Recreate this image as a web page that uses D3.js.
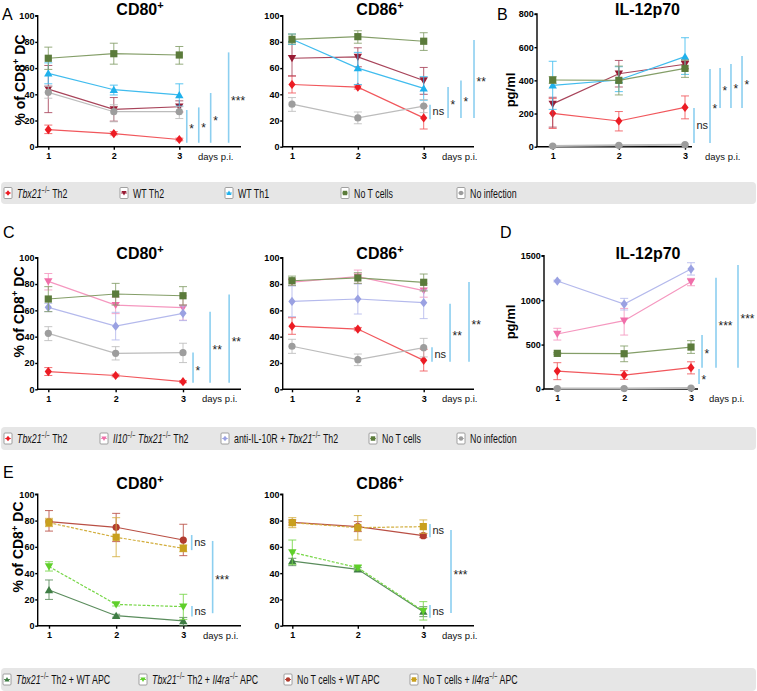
<!DOCTYPE html>
<html>
<head>
<meta charset="utf-8">
<script src="https://cdn.jsdelivr.net/npm/d3@7"></script>
<style>
  body { margin: 0; background: #fff; }
  svg { display: block; font-family: "Liberation Sans", Arial, sans-serif; }
</style>
</head>
<body>
<svg id="fig" width="757" height="691"></svg>
<script>
// ---- data: each point is [mean, lower error, upper error] for day 1, 2, 3 ----
const days = [1, 2, 3];

const groupsAB = ['tbx', 'wtTh2', 'wtTh1', 'noT', 'noInf'];
const groupsCD = ['tbx', 'il10', 'antiIl10r', 'noT', 'noInf'];
const groupsE = ['eTbxWt', 'eTbxIl4ra', 'eNoTWt', 'eNoTIl4ra'];

const a80 = [
  [[13, 10, 16.5], [10, 9, 11.5], [5.5, 4.5, 6.5]],
  [[44, 26, 62], [28.5, 19.5, 37.5], [30.5, 26.5, 35]],
  [[56, 48, 64], [43.5, 39.5, 47], [39.5, 31, 48]],
  [[67.5, 59, 76], [71, 63, 79], [70, 63, 76.5]],
  [[41.5, 37, 46], [26.7, 19, 32], [26.7, 21.5, 30.5]]
];
const a86 = [
  [[47.5, 41, 54], [45.5, 44, 47], [22, 13.5, 31]],
  [[67.5, 54, 80], [68.5, 61, 75.5], [50.5, 40, 60.5]],
  [[82, 78, 86], [60, 47.5, 72], [44.5, 35.5, 53.5]],
  [[82, 78.5, 86], [84, 79, 88.5], [80.5, 73.5, 87]],
  [[32.5, 27, 37.5], [22, 17.5, 26.5], [31, 26, 36]]
];
const b12 = [
  [[201, 110, 290], [155, 95, 212], [237, 168, 306]],
  [[258, 118, 298], [440, 360, 520], [497, 470, 522]],
  [[370, 225, 515], [402, 332, 482], [543, 436, 657]],
  [[402, 382, 422], [400, 312, 486], [472, 418, 522]],
  [[4, 0, 8], [8, 4, 12], [12, 8, 16]]
];
const c80 = [
  [[13.5, 10.5, 16.5], [10.5, 9.5, 11.5], [5.8, 5, 6.6]],
  [[82, 75.5, 88], [64, 57.5, 70], [62, 52.5, 71]],
  [[62.3, 59, 65.3], [48, 37.5, 58.5], [57.7, 52.2, 63.3]],
  [[68.6, 59, 78], [72.4, 64, 80.5], [71.1, 64, 78]],
  [[42.5, 37, 47.6], [27.3, 22.3, 32.4], [27.8, 20.3, 35]]
];
const c86 = [
  [[48, 41.8, 54.4], [45.8, 44.5, 47], [22, 13.9, 30.4]],
  [[81.5, 79, 83.5], [85.6, 80.5, 90.6], [75, 70, 80.5]],
  [[66.8, 55.2, 78.5], [68.6, 57.2, 80], [65.8, 53.7, 75.4]],
  [[82.5, 79, 86], [84.6, 80.5, 88.6], [81.3, 74.7, 87.6]],
  [[32.7, 27.3, 38], [22.5, 18, 26.8], [31.6, 24.6, 38.7]]
];
const d12 = [
  [[202, 105, 296], [157, 109, 206], [240, 170, 306]],
  [[619, 551, 683], [769, 607, 907], [1207, 1162, 1245]],
  [[1215, 1205, 1225], [956, 889, 1020], [1350, 1282, 1421]],
  [[401, 392, 410], [397, 307, 484], [472, 401, 544]],
  [[5, 0, 10], [5, 0, 10], [10, 5, 15]]
];
const e80 = [
  [[27.2, 20, 34.8], [7.6, 6.5, 8.7], [3.6, 0, 6.3]],
  [[45, 41.6, 48.7], [16.2, 15, 17.2], [14.5, 4.8, 23.9]],
  [[79.2, 72, 87.6], [74.9, 64, 85.5], [65.2, 53.3, 77.2]],
  [[78.4, 75.4, 81.7], [67.3, 52.5, 82.2], [58.9, 56.3, 61.4]]
];
const e86 = [
  [[49.2, 45.7, 51.3], [42.9, 41.6, 44.2], [10.7, 6.9, 14.5]],
  [[55.8, 46.7, 65.2], [44.2, 42.4, 45.7], [11.2, 4.3, 18.3]],
  [[78.7, 76.6, 80.5], [75.4, 71.6, 79.2], [68.5, 67, 70]],
  [[78.4, 74.6, 82.2], [74.6, 65.2, 83.8], [75.4, 70.3, 80.5]]
];

// significance bars: [x in days, from, to, label]
const sigA80 = [[3.114, 3, 28, '*'], [3.297, 3, 30, '*'], [3.479, 3, 41, '*'], [3.753, 3, 72, '***']];
const sigA86 = [[3.096, 21, 32, 'ns'], [3.37, 22, 45.5, '*'], [3.566, 22, 50.5, '*'], [3.764, 22, 81.5, '**']];
const sigB = [[3.136, 22, 233, 'ns'], [3.378, 22, 468, '*'], [3.53, 233, 474, '*'], [3.695, 233, 498, '*'], [3.862, 233, 547, '*']];
const sigC80 = [[3.149, 5, 28, '*'], [3.402, 5, 59, '**'], [3.685, 5, 72, '**']];
const sigC86 = [[3.126, 21, 32, 'ns'], [3.4, 21, 65, '**'], [3.688, 21, 81.5, '**']];
const sigD = [[3.12, 56, 225, '*'], [3.165, 240, 608, '*'], [3.374, 240, 1252, '***'], [3.703, 240, 1395, '***']];
const sigE80 = [[3.125, 57.5, 69, 'ns'], [3.129, 7, 15, 'ns'], [3.437, 9.5, 64.5, '***']];
const sigE86 = [[3.102, 67.3, 77.4, 'ns'], [3.102, 6, 15.8, 'ns'], [3.423, 9.6, 72.8, '***']];

const yTicksPct = [0, 20, 40, 60, 80, 100];
const yTicksB = [0, 200, 400, 600, 800];
const yTicksD = [0, 500, 1000, 1500];

// ---- styles ----
const styles = {
  tbx:       { color: '#ec1c24', line: '#f1575c', marker: 'diamond' },
  wtTh2:     { color: '#981b34', line: '#a8445a', marker: 'triDown' },
  wtTh1:     { color: '#1fb1ec', line: '#40bcee', marker: 'triUp' },
  noT:       { color: '#5b7b3b', line: '#849e68', marker: 'square' },
  noInf:     { color: '#9d9d9d', line: '#bcbcbc', marker: 'circle' },
  il10:      { color: '#f06ea9', line: '#f597bf', marker: 'triDown' },
  antiIl10r: { color: '#9aa1e2', line: '#b4b9ec', marker: 'diamond' },
  eTbxWt:    { color: '#3f7d44', line: '#5a8c5c', marker: 'triUp' },
  eTbxIl4ra: { color: '#5fcf2a', line: '#76d646', marker: 'triDown', dash: '3,1.5' },
  eNoTWt:    { color: '#b23b2e', line: '#b94f44', marker: 'circle' },
  eNoTIl4ra: { color: '#c9a01e', line: '#d2ae3e', marker: 'square', dash: '3,1.5' }
};
const sigColor = '#8ccff0';

function markerPath(type, s) {
  const k = s || 1;
  switch (type) {
    case 'diamond': return `M0,${-4.6 * k}L${3.6 * k},0L0,${4.6 * k}L${-3.6 * k},0Z`;
    case 'triUp': return `M0,${-4 * k}L${4.2 * k},${3.2 * k}L${-4.2 * k},${3.2 * k}Z`;
    case 'triDown': return `M0,${4 * k}L${4.2 * k},${-3.2 * k}L${-4.2 * k},${-3.2 * k}Z`;
    case 'square': return `M${-3.6 * k},${-3.6 * k}h${7.2 * k}v${7.2 * k}h${-7.2 * k}Z`;
    default: {
      const r = 3.6 * k;
      return `M${r},0A${r},${r} 0 1,1 ${-r},0A${r},${r} 0 1,1 ${r},0Z`;
    }
  }
}

const svg = d3.select('#fig');

// rich text: parts are [text, kind] with kind '', 'i' (italic), 's' (superscript)
function rich(sel, parts, supSize) {
  let raised = false;
  parts.forEach(([t, kind]) => {
    const sp = sel.append('tspan').text(t);
    const sup = kind.includes('s');
    if (kind.includes('i')) sp.attr('font-style', 'italic');
    if (sup && !raised) { sp.attr('dy', -supSize * 0.55).attr('font-size', supSize); raised = true; }
    else if (sup) sp.attr('font-size', supSize);
    else if (!sup && raised) { sp.attr('dy', supSize * 0.55); raised = false; }
  });
  return sel;
}

function drawPanel(p) {
  const g = svg.append('g');
  const x = d3.scaleLinear().domain([1, 3]).range([p.x1, p.x3]);
  const y = d3.scaleLinear().domain([0, p.yMax]).range([p.bottom, p.top]);

  // y axis
  const ya = g.append('g')
    .attr('transform', `translate(${p.axisX},0)`)
    .call(d3.axisLeft(y).tickValues(p.yTicks).tickFormat(d3.format('d')).tickSize(2.5).tickPadding(0.8));
  ya.select('.domain').attr('stroke-width', 1.4).attr('d', `M-2.5,${p.top}H0V${p.bottom}`);
  ya.selectAll('.tick line').attr('stroke-width', 1.4);
  ya.selectAll('text').attr('font-size', 9).attr('font-weight', 'bold').attr('font-family', '"Liberation Sans", Arial, sans-serif');

  // x axis
  const xa = g.append('g')
    .attr('transform', `translate(0,${p.bottom})`)
    .call(d3.axisBottom(x).tickValues(days).tickFormat(d3.format('d')).tickSize(3).tickPadding(3));
  xa.select('.domain').remove();
  xa.selectAll('.tick line').attr('stroke-width', 1.4);
  xa.selectAll('text').attr('font-size', 9).attr('font-weight', 'bold').attr('font-family', '"Liberation Sans", Arial, sans-serif');
  g.append('line')
    .attr('x1', p.axisX - 0.7).attr('x2', p.xEnd)
    .attr('y1', p.bottom).attr('y2', p.bottom)
    .attr('stroke', '#000').attr('stroke-width', 1.4);

  g.append('text')
    .attr('x', p.daysX).attr('y', p.bottom + 13)
    .attr('font-size', 9.5).attr('fill', '#111')
    .text('days p.i.');

  // title
  rich(g.append('text')
    .attr('x', p.titleX).attr('y', p.titleY)
    .attr('text-anchor', 'middle')
    .attr('font-size', 16).attr('font-weight', 'bold'), p.title, 11);

  // y label
  if (p.yLabel) {
    rich(g.append('text')
      .attr('transform', `translate(${p.yLabelX},${p.yLabelY}) rotate(-90)`)
      .attr('text-anchor', 'middle')
      .attr('font-size', p.yLabelSize).attr('font-weight', 'bold'), p.yLabel, 9.5);
  }

  // series
  const line = d3.line().x((d, i) => x(days[i])).y(d => y(d[0]));
  p.data.forEach((series, si) => {
    const st = styles[p.groups[si]];
    const sg = g.append('g');
    sg.append('path')
      .attr('d', line(series))
      .attr('fill', 'none')
      .attr('stroke', st.line)
      .attr('stroke-width', p.groups[si] === 'noInf' && p.yMax > 100 ? 2 : 1.2)
      .attr('stroke-dasharray', st.dash || null);
    series.forEach((d, i) => {
      const cx = x(days[i]);
      const eb = sg.append('g').attr('stroke', st.line).attr('stroke-width', 1).attr('stroke-opacity', 0.85);
      eb.append('line').attr('x1', cx).attr('x2', cx).attr('y1', y(d[1])).attr('y2', y(d[2]));
      [d[1], d[2]].forEach(v => {
        eb.append('line').attr('x1', cx - 4).attr('x2', cx + 4).attr('y1', y(v)).attr('y2', y(v));
      });
    });
    sg.selectAll('path.mk')
      .data(series)
      .enter()
      .append('path')
      .attr('class', 'mk')
      .attr('transform', (d, i) => `translate(${x(days[i])},${y(d[0])})`)
      .attr('d', markerPath(st.marker))
      .attr('fill', st.color);
  });

  // significance
  p.sig.forEach(([xd, lo, hi, label]) => {
    const sx = x(xd);
    g.append('line')
      .attr('x1', sx).attr('x2', sx)
      .attr('y1', y(lo)).attr('y2', y(hi))
      .attr('stroke', sigColor).attr('stroke-width', 1.6);
    const mid = (y(lo) + y(hi)) / 2;
    const isNs = label === 'ns';
    g.append('text')
      .attr('x', sx + 2.5)
      .attr('y', isNs ? mid + 3.5 : mid + 7)
      .attr('font-size', isNs ? 11 : 12)
      .attr('fill', '#222')
      .text(label);
  });
}

const pct = [['% of CD8', ''], ['+', 's'], [' DC', '']];
const cd80 = [['CD80', ''], ['+', 's']];
const cd86 = [['CD86', ''], ['+', 's']];
const il12 = [['IL-12p70', '']];
const pgml = [['pg/ml', '']];

const left = { axisX: 37.7, x1: 48.3, xEnd: 241, yTicks: yTicksPct, yMax: 100, titleX: 140, yLabel: pct, yLabelSize: 14 };
const mid = { axisX: 282.7, x1: 292, x3: 423.7, xEnd: 474, daysX: 442, yTicks: yTicksPct, yMax: 100, titleX: 380 };

const panels = [
  Object.assign({}, left, { x3: 179.3, daysX: 198, top: 15.7, bottom: 146.7, titleY: 15, title: cd80, yLabelX: 24.5, yLabelY: 80, data: a80, groups: groupsAB, sig: sigA80 }),
  Object.assign({}, mid, { top: 15.7, bottom: 146.7, titleY: 15, title: cd86, data: a86, groups: groupsAB, sig: sigA86 }),
  { axisX: 537, x1: 552.7, x3: 685, xEnd: 692, daysX: 705, yTicks: yTicksB, yMax: 800, top: 14, bottom: 146.7, titleX: 647.5, titleY: 15, title: il12, yLabel: pgml, yLabelSize: 13, yLabelX: 515, yLabelY: 90, data: b12, groups: groupsAB, sig: sigB },
  Object.assign({}, left, { x3: 183, daysX: 202, top: 257.7, bottom: 389.3, titleY: 259, title: cd80, yLabelX: 23.5, yLabelY: 312, data: c80, groups: groupsCD, sig: sigC80 }),
  Object.assign({}, mid, { top: 257.7, bottom: 389.3, titleY: 259, title: cd86, data: c86, groups: groupsCD, sig: sigC86 }),
  { axisX: 544, x1: 557.3, x3: 691, xEnd: 698, daysX: 709, yTicks: yTicksD, yMax: 1500, top: 255.7, bottom: 389, titleX: 648, titleY: 259, title: il12, yLabel: pgml, yLabelSize: 13, yLabelX: 515, yLabelY: 322, data: d12, groups: groupsCD, sig: sigD },
  Object.assign({}, left, { x1: 49, x3: 183.3, daysX: 203, top: 494.3, bottom: 625.7, titleY: 489, title: cd80, yLabelX: 23, yLabelY: 547, data: e80, groups: groupsE, sig: sigE80 }),
  Object.assign({}, mid, { x1: 292.3, x3: 423.3, top: 494.3, bottom: 625.7, titleY: 489, title: cd86, data: e86, groups: groupsE, sig: sigE86 })
];
panels.forEach(drawPanel);

// panel letters
const letters = [['A', 2, 20], ['B', 497, 20], ['C', 3, 238], ['D', 500, 238], ['E', 3, 478]];
svg.selectAll('text.letter')
  .data(letters)
  .enter()
  .append('text')
  .attr('class', 'letter')
  .attr('x', d => d[1]).attr('y', d => d[2])
  .attr('font-size', 16)
  .text(d => d[0]);

// ---- legends ----
const ko = [['−/−', 's']];
const legendAB = [
  [['Tbx21', 'i'], ...ko, [' Th2', '']],
  [['WT Th2', '']],
  [['WT Th1', '']],
  [['No T cells', '']],
  [['No infection', '']]
];
const legendCD = [
  [['Tbx21', 'i'], ...ko, [' Th2', '']],
  [['Il10', 'i'], ...ko, [' ', ''], ['Tbx21', 'i'], ...ko, [' Th2', '']],
  [['anti-IL-10R + ', ''], ['Tbx21', 'i'], ...ko, [' Th2', '']],
  [['No T cells', '']],
  [['No infection', '']]
];
const legendE = [
  [['Tbx21', 'i'], ...ko, [' Th2 + WT APC', '']],
  [['Tbx21', 'i'], ...ko, [' Th2 + ', ''], ['Il4ra', 'i'], ...ko, [' APC', '']],
  [['No T cells + WT APC', '']],
  [['No T cells + ', ''], ['Il4ra', 'i'], ...ko, [' APC', '']]
];

function drawLegend(y0, h, labels, groups, xs) {
  const g = svg.append('g');
  g.append('rect')
    .attr('x', 1).attr('y', y0).attr('width', 755).attr('height', h)
    .attr('rx', 4).attr('fill', '#e6e6e6');
  const cy = y0 + h / 2;
  labels.forEach((lab, i) => {
    const st = styles[groups[i]];
    const ix = xs[i];
    const ig = g.append('g').attr('transform', `translate(${ix},${cy})`);
    ig.append('rect')
      .attr('x', -4).attr('y', -5.5).attr('width', 8).attr('height', 11)
      .attr('rx', 1).attr('fill', '#fff').attr('stroke', '#8a8a8a').attr('stroke-width', 0.8);
    ig.append('line').attr('x1', -3).attr('x2', 3).attr('y1', 0).attr('y2', 0)
      .attr('stroke', st.line).attr('stroke-width', 1);
    ig.append('path').attr('d', markerPath(st.marker, 0.62)).attr('fill', st.color);
    // narrow look of the original legend font
    rich(g.append('text')
      .attr('transform', `translate(${ix + 9},${cy + 4.5}) scale(0.68,1)`)
      .attr('font-size', 13)
      .attr('fill', '#111'), lab, 8.5);
  });
}

drawLegend(182, 22, legendAB, groupsAB, [8, 124, 229, 345, 461]);
drawLegend(427, 23, legendCD, groupsCD, [8, 104, 225, 373, 461]);
drawLegend(668, 23, legendE, groupsE, [7, 143, 288, 414]);
</script>
</body>
</html>
